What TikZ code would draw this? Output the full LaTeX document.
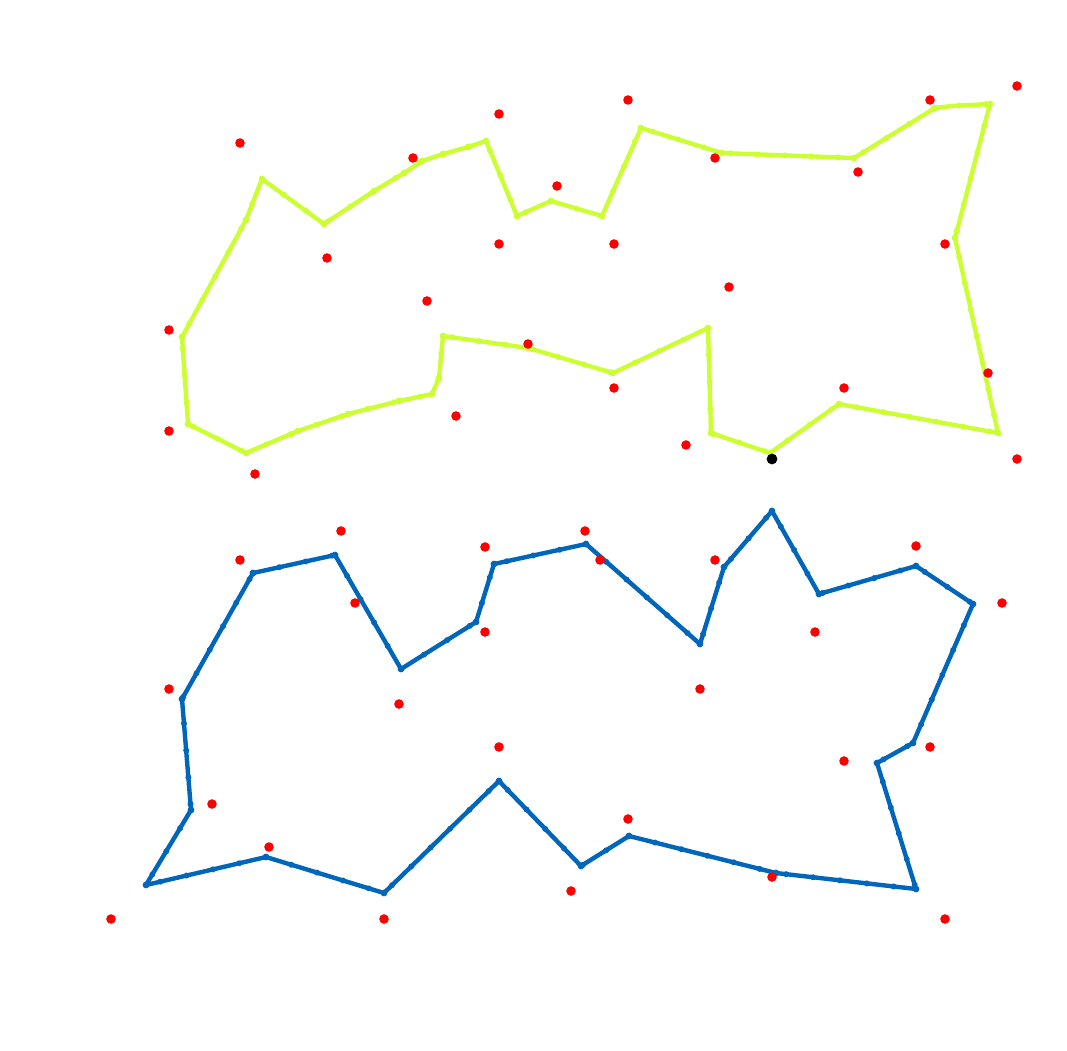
\documentclass[tikz,border=0pt]{standalone}
\usetikzlibrary{decorations.markings}
\definecolor{lime}{RGB}{204,255,51}
\definecolor{bluec}{RGB}{0,102,187}
\definecolor{redc}{RGB}{255,0,0}
\tikzset{
  poly/.style={line width=4.4pt, line join=round, #1,
    postaction={decorate, decoration={markings,
      mark=between positions 0 and 1 step 27pt with {\fill[#1] (0,0) circle (3pt);}}}},
  reddot/.style={fill=redc},
}
\begin{document}
\begin{tikzpicture}[x=1pt,y=-1pt]
\useasboundingbox (0,0) rectangle (1067,1050);
% yellow polygon
\def\ypts{(262,179),(324,224),(374,191),(404,173),(422,161),(443,154),(468,147),(486,141),(517,216),(551,201),(602,216),(641,128),(722,153),(854,158),(935,108),(990,104),(955,238),(998,433),(839,404),(770,453),(711,433),(708,328),(613,373),(528,348),(443,336),(439,378),(432,394),(399,401),(348,414),(298,431),(246,453),(188,424),(182,337),(246,220)}
\draw[poly=lime] (262,179) -- (324,224) -- (374,191) -- (404,173) -- (422,161) -- (443,154) -- (468,147) -- (486,141) -- (517,216) -- (551,201) -- (602,216) -- (641,128) -- (722,153) -- (854,158) -- (935,108) -- (952,106) -- (990,104) -- (955,238) -- (998,433) -- (839,404) -- (770,453) -- (711,433) -- (708,328) -- (613,373) -- (528,348) -- (443,336) -- (439,378) -- (432,394) -- (399,401) -- (348,414) -- (298,431) -- (246,453) -- (188,424) -- (182,337) -- (246,220) -- cycle;
\foreach \p in \ypts { \fill[lime] \p circle (3.4pt); }
% blue polygon
\def\bpts{(253,573),(335,555),(401,669),(476,622),(494,564),(586,544),(700,644),(724,567),(772,511),(819,594),(916,566),(973,604),(913,743),(877,763),(916,889),(776,873),(629,836),(581,866),(499,781),(384,893),(266,857),(146,885),(191,810),(182,699)}
\draw[poly=bluec] (253,573) -- (335,555) -- (401,669) -- (476,622) -- (494,564) -- (586,544) -- (700,644) -- (724,567) -- (772,511) -- (819,594) -- (916,566) -- (973,604) -- (913,743) -- (877,763) -- (916,889) -- (776,873) -- (629,836) -- (581,866) -- (499,781) -- (384,893) -- (266,857) -- (146,885) -- (191,810) -- (182,699) -- cycle;
\foreach \p in \bpts { \fill[bluec] \p circle (3.4pt); }
% red dots
\foreach \p in {(240,143),(413,158),(499,114),(628,100),(557,186),(499,244),(614,244),(715,158),(858,172),(930,100),(1017,86),(945,244),(327,258),(427,301),(729,287),(169,330),(528,344),(614,388),(844,388),(988,373),(169,431),(456,416),(686,445),(255,474),(1017,459),
(169,689),(240,560),(341,531),(355,603),(399,704),(485,547),(485,632),(585,531),(600,560),(715,560),(700,689),(815,632),(916,546),(1002,603),
(212,804),(269,847),(111,919),(384,919),(499,747),(571,891),(628,819),(772,877),(844,761),(930,747),(945,919)}
{ \fill[reddot] \p circle (4.8pt); }
% black dot
\fill[black] (772,459) circle (5.4pt);
\end{tikzpicture}
\end{document}
